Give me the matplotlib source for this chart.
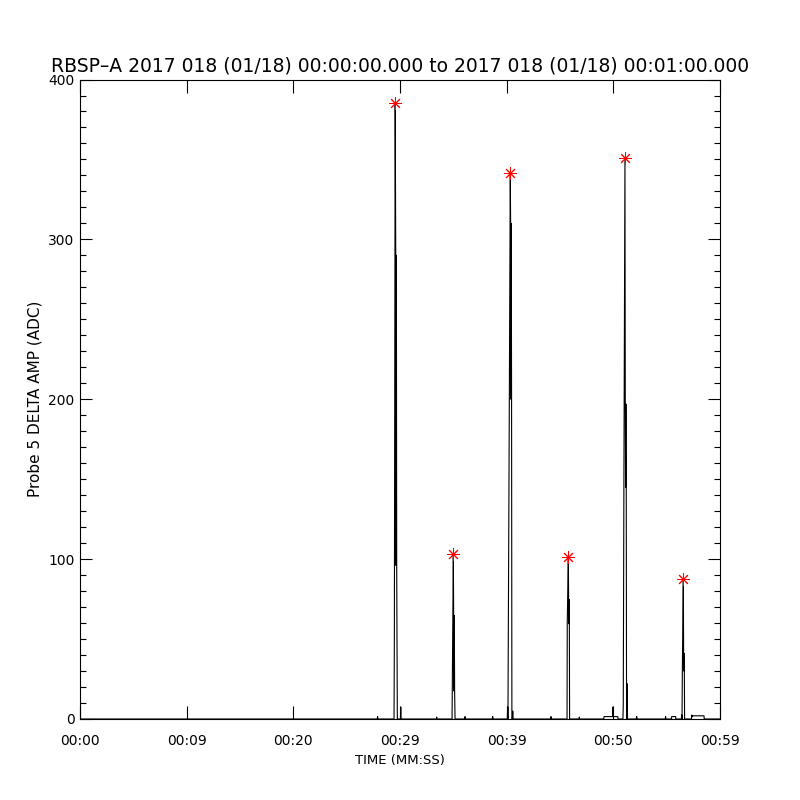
import numpy as np
import matplotlib
matplotlib.use("Agg")
import matplotlib.pyplot as plt

# ------------------------------------------------------------
# data (time in seconds after 00:00:00)
# ------------------------------------------------------------
title = "RBSP\u2013A 2017 018 (01/18) 00:00:00.000 to 2017 018 (01/18) 00:01:00.000"

# amplitude trace, one line per event
trace_t = [0.0, 27.87, 27.90, 27.93,
           29.44, 29.47, 29.55, 29.60, 29.63, 29.66, 29.69, 29.75,
           30.04, 30.07, 30.10,
           33.42, 33.44, 33.46,
           34.88, 34.90, 35.00, 35.03, 35.06, 35.09, 35.12, 35.16,
           36.06, 36.09, 36.12,
           38.66, 38.69, 38.72,
           40.06, 40.09, 40.12, 40.25, 40.34, 40.37, 40.40, 40.43, 40.46, 40.49,
           40.54, 40.57, 40.60,
           44.13, 44.16, 44.19,
           45.66, 45.68, 45.78, 45.81, 45.84, 45.87, 45.90,
           46.78, 46.81, 46.84,
           49.10, 49.13, 49.95, 49.97, 49.99, 50.42, 50.44,
           50.90, 50.93, 50.99, 51.09, 51.12, 51.15, 51.18, 51.21, 51.24,
           51.29, 51.31, 51.33,
           52.16, 52.19, 52.22,
           54.87, 54.90, 54.93,
           55.45, 55.47, 55.84, 55.86,
           56.38, 56.41, 56.44, 56.47, 56.56, 56.59, 56.62, 56.65, 56.68,
           57.33, 57.35, 57.40, 57.45, 58.50, 58.52, 60.0]
trace_v = [0.0, 0.0, 1.5, 0.0,
           0.0, 48.0, 385.4, 290.0, 96.0, 290.0, 96.0, 0.0,
           0.0, 7.5, 0.0,
           0.0, 1.2, 0.0,
           0.0, 17.6, 103.3, 64.6, 17.6, 64.6, 17.6, 0.0,
           0.0, 1.5, 0.0,
           0.0, 1.5, 0.0,
           0.0, 7.5, 0.0, 200.0, 341.5, 310.0, 200.0, 310.0, 200.0, 0.0,
           0.0, 5.0, 0.0,
           0.0, 1.5, 0.0,
           0.0, 59.6, 101.6, 74.6, 59.6, 74.6, 0.0,
           0.0, 1.2, 0.0,
           0.0, 1.5, 1.5, 7.5, 1.5, 1.5, 0.0,
           0.0, 8.0, 145.0, 350.9, 197.0, 145.0, 197.0, 145.0, 0.0,
           0.0, 22.0, 0.0,
           0.0, 1.5, 0.0,
           0.0, 1.5, 0.0,
           0.0, 1.5, 1.5, 0.0,
           0.0, 2.5, 0.0, 30.0, 87.6, 41.0, 30.0, 41.0, 0.0,
           0.0, 2.5, 1.5, 2.0, 2.0, 0.0, 0.0]

# detected peaks (red asterisks)
peak_t = [29.55, 35.00, 40.34, 45.78, 51.09, 56.56]
peak_v = [385.4, 103.3, 341.5, 101.6, 350.9, 87.6]

xtick_pos = [0, 10, 20, 30, 40, 50, 60]
xtick_labels = ["00:00", "00:09", "00:20", "00:29", "00:39", "00:50", "00:59"]
ytick_pos = [0, 100, 200, 300, 400]

# ------------------------------------------------------------
# plot
# ------------------------------------------------------------
fig = plt.figure(figsize=(8, 8), dpi=100)
ax = fig.add_axes([0.1, 0.10125, 0.8, 0.79935])

ax.plot(trace_t, trace_v, color="black", linewidth=0.8)
ax.plot(peak_t, peak_v, linestyle="none", marker=(8, 2, 0),
        markersize=9, markeredgewidth=0.7, color="red")

ax.set_xlim(0, 60)
ax.set_ylim(0, 400)

ax.set_xticks(xtick_pos)
ax.set_xticklabels(xtick_labels)
ax.set_yticks(ytick_pos)
ax.set_yticks(np.arange(0, 401, 10), minor=True)

ax.tick_params(axis="both", which="both", direction="in",
               top=True, right=True, width=0.8, labelsize=10)
ax.tick_params(axis="x", which="major", length=9.4, pad=11)
ax.tick_params(axis="y", which="major", length=8.6, pad=4)
ax.tick_params(axis="y", which="minor", length=4.3)
for s in ax.spines.values():
    s.set_linewidth(0.8)

ax.set_xlabel("TIME (MM:SS)", fontsize=9.5, labelpad=4)
ax.set_ylabel("Probe 5 DELTA AMP (ADC)", fontsize=11, labelpad=4)
fig.text(0.5, 0.918, title, ha="center", va="center", fontsize=13.5)

plt.savefig("out.png", dpi=100)
